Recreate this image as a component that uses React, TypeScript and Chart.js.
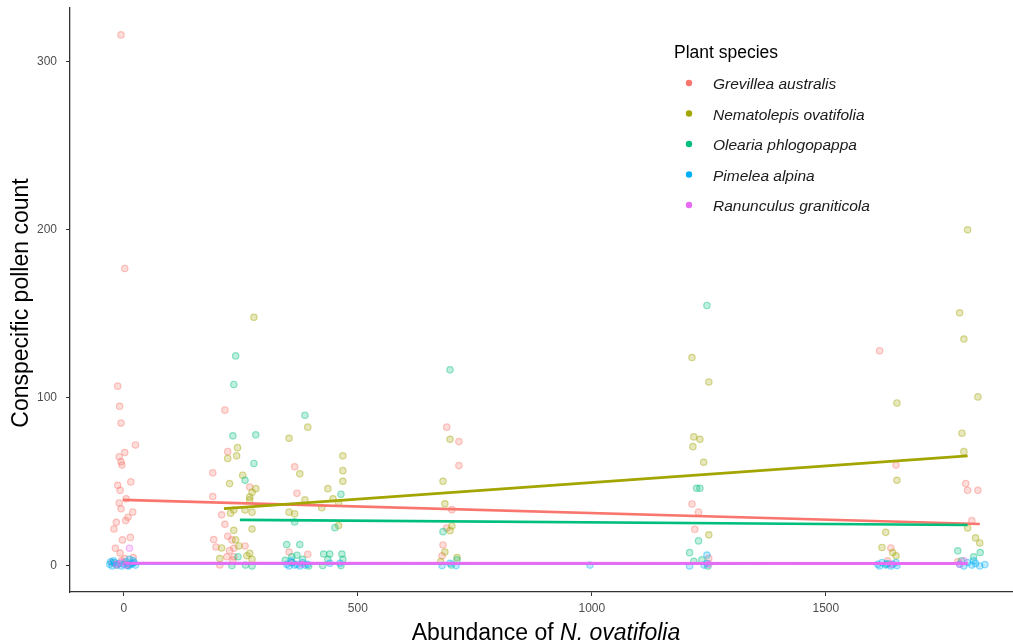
import React, { useEffect, useRef } from "react";
import { Chart, registerables } from "chart.js";

Chart.register(...registerables);

// ---- Data ----
const speciesNames = [
  "Grevillea australis",
  "Nematolepis ovatifolia",
  "Olearia phlogopappa",
  "Pimelea alpina",
  "Ranunculus graniticola",
];
const speciesColors = ["#F8766D", "#A3A500", "#00BF7D", "#00B0F6", "#E76BF3"];

const grevilleaX = [-6, 2, -13, -9, -6, 25, 2, -10, -6, -4, 15, -13, -8, 5, -10, -6, 19, 9, 4, -16, -21, 14, -3, -18, -8, 2, -25, 10, -5, 20, -15,
  216, 222, 190, 269, 190, 209, 216, 222, 192, 231, 197, 235, 259, 226, 220, 235, 205, 233,
  365, 370, 353, 393, 360,
  690, 716, 716, 701, 690, 682, 680,
  1214, 1228, 1220, 1250,
  1615, 1650, 1639, 1632,
  1799, 1803, 1825, 1812, 1782];
const grevilleaY = [316, 177, 107, 95, 85, 72, 67.5, 65, 62, 60, 50, 48, 45, 40, 37.5, 34, 32, 29, 27, 26, 22, 17, 15.5, 10.5, 7.7, 4.4, 2, 1, 3, 5, 0.5,
  92.7, 68, 55.4, 47, 41.3, 30.4, 24.8, 17.7, 15.7, 15.5, 11.3, 10.5, 11.9, 9.1, 5.5, 5.5, 0.6, 3.5,
  59, 43.3, 8.3, 7, 2,
  82.6, 74, 59.7, 33.5, 22.6, 12.5, 6,
  36.9, 32, 21.8, 4.6,
  128, 60, 10.7, 3,
  49, 45, 45, 27, 2.5];

const nematolepisX = [278, 243, 241, 222, 254, 226, 282, 274, 269, 269, 235, 259, 274, 228, 235, 274, 239, 209, 246, 269, 205, 263, 274,
  393, 353, 376, 387, 353, 365, 468, 468, 468, 436, 447, 459, 423, 459,
  697, 682, 686, 701, 697, 686, 712, 677,
  1214, 1250, 1218, 1231, 1216, 1239, 1250,
  1652, 1652, 1628, 1620, 1643, 1650,
  1803, 1786, 1795, 1825, 1791, 1795, 1803, 1820, 1829];
const nematolepisY = [148, 70.4, 65.5, 64, 54, 49, 46, 43.8, 41, 39.3, 33.3, 33.3, 32, 31.4, 21.2, 22, 15.5, 10.7, 11.9, 7.5, 4.4, 6.1, 4,
  82.6, 76, 54.8, 39.3, 32, 31, 65.5, 56.7, 50.4, 46, 40, 37.5, 34.7, 24,
  75.4, 50.4, 37, 23.8, 21, 8.3, 5, 2.6,
  124, 109.5, 76.8, 75.4, 71, 61.7, 18.5,
  97, 51, 20, 11, 8, 6,
  200, 150.6, 135, 100.6, 79, 68, 22.6, 16.7, 13.7];

const oleariaX = [239, 235, 233, 282, 278, 259, 244, 231, 274, 260,
  387, 365, 348, 376, 370, 359, 382, 345, 395, 464, 451, 427, 440, 466, 436, 468, 425, 464,
  697, 682, 712, 700,
  1246, 1224, 1231, 1228, 1209, 1218, 1235, 1248,
  1630,
  1782, 1816, 1830, 1790];
const oleariaY = [125, 108, 77.4, 78, 61, 51, 5.5, 0.2, 0, 0.5,
  89.7, 26.2, 12.7, 12.7, 6.4, 5.5, 4, 3.4, 0, 42.7, 22.8, 7.1, 7.1, 7.1, 4, 4, 0.2, 0.2,
  116.7, 20.4, 3.6, 0.5,
  155, 46.2, 46.2, 14.9, 7.9, 2.8, 3.6, 0,
  1,
  9, 5.4, 8, 3];

const pimeleaX = [-30, -25, -20, -15, -10, -5, 0, 5, 10, 15, 20, 25, -22, 12, 18, -28, 8, 22,
  348, 353, 359, 365, 370, 376, 382, 387, 393, 440, 462, 357,
  680, 697, 710,
  996,
  1246, 1209, 1246, 1240,
  1611, 1615, 1620, 1628, 1632, 1639, 1643, 1650, 1652,
  1786, 1795, 1803, 1812, 1820, 1829, 1840, 1816];
const pimeleaY = [1, 0, 2, 0.5, 1.5, 0, 1, 2.5, 0, 1, 3, 0.5, 3, 4, 1.5, 2.5, 0.3, 2,
  1, 0, 2, 0.5, 1, 0, 2, 0.5, 1, 1.6, 1.6, 3,
  0.2, 1.6, 0.2,
  0.5,
  6.5, 0, 1.6, 0.5,
  1, 0, 2, 0.5, 1.5, 0, 1, 2, 0.3,
  1, 0, 2, 0.5, 1.5, 0, 0.8, 3];

const ranunculusX = [12, -15, -5, 5, 380, 1250, 1640, 1786, 1795];
const ranunculusY = [10.5, 1, 2, 0.5, 1, 1, 1, 1, 3];

// Fitted trend lines (start / end)
const grevilleaFitX = [-2, 1829];
const grevilleaFitY = [39.3, 25];
const nematolepisFitX = [214, 1803];
const nematolepisFitY = [34.1, 65.5];
const oleariaFitX = [248, 1803];
const oleariaFitY = [27.4, 24.4];
const pimeleaFitX = [2, 1803];
const pimeleaFitY = [1.4, 1.2];
const ranunculusFitX = [2, 1803];
const ranunculusFitY = [1.6, 1.5];

const xTicks = [0, 500, 1000, 1500];
const yTicks = [0, 100, 200, 300];

const pointXs = [grevilleaX, nematolepisX, oleariaX, pimeleaX, ranunculusX];
const pointYs = [grevilleaY, nematolepisY, oleariaY, pimeleaY, ranunculusY];
const fitXs = [grevilleaFitX, nematolepisFitX, oleariaFitX, pimeleaFitX, ranunculusFitX];
const fitYs = [grevilleaFitY, nematolepisFitY, oleariaFitY, pimeleaFitY, ranunculusFitY];
const fitWidths = [2.6, 2.6, 2.6, 1.6, 3];

function rgba(hex: string, a: number) {
  const r = parseInt(hex.slice(1, 3), 16);
  const g = parseInt(hex.slice(3, 5), 16);
  const b = parseInt(hex.slice(5, 7), 16);
  return `rgba(${r},${g},${b},${a})`;
}

const FONT = '"Liberation Sans", Arial, sans-serif';

const annotPlugin = {
  id: "annot",
  afterDraw(chart: any) {
    const ctx = chart.ctx as CanvasRenderingContext2D;
    ctx.save();
    // x axis title (mixed italic)
    const part1 = "Abundance of ";
    const part2 = "N. ovatifolia";
    ctx.font = `23px ${FONT}`;
    const w1 = ctx.measureText(part1).width;
    ctx.font = `italic 23px ${FONT}`;
    const w2 = ctx.measureText(part2).width;
    const cx = 546;
    const startX = cx - (w1 + w2) / 2;
    ctx.fillStyle = "#000";
    ctx.textBaseline = "alphabetic";
    ctx.textAlign = "left";
    ctx.font = `23px ${FONT}`;
    ctx.fillText(part1, startX, 640);
    ctx.font = `italic 23px ${FONT}`;
    ctx.fillText(part2, startX + w1, 640);

    // y axis title
    ctx.save();
    ctx.translate(22, 303);
    ctx.rotate(-Math.PI / 2);
    ctx.font = `23px ${FONT}`;
    ctx.textAlign = "center";
    ctx.textBaseline = "middle";
    ctx.fillText("Conspecific pollen count", 0, 0);
    ctx.restore();

    // legend
    ctx.textAlign = "left";
    ctx.textBaseline = "middle";
    ctx.font = `17.5px ${FONT}`;
    ctx.fillStyle = "#000";
    ctx.fillText("Plant species", 674, 53);
    ctx.font = `italic 15.5px ${FONT}`;
    speciesNames.forEach((name, i) => {
      const y = 84 + i * 30.5;
      ctx.beginPath();
      ctx.arc(689, y - 1, 3.2, 0, Math.PI * 2);
      ctx.fillStyle = speciesColors[i];
      ctx.fill();
      ctx.fillStyle = "#1a1a1a";
      ctx.fillText(name, 713, y + 1);
    });
    ctx.restore();
  },
};

export default function App() {
  const ref = useRef<HTMLCanvasElement>(null);
  useEffect(() => {
    if (!ref.current) return;
    const datasets: any[] = [];
    speciesNames.forEach((name, i) => {
      datasets.push({
        type: "scatter",
        label: name,
        data: pointXs[i].map((x, j) => ({ x, y: pointYs[i][j] })),
        backgroundColor: rgba(speciesColors[i], 0.25),
        borderColor: rgba(speciesColors[i], 0.42),
        borderWidth: 1.2,
        pointRadius: 3.2,
        order: 20 - i,
      });
    });
    speciesNames.forEach((name, i) => {
      datasets.push({
        type: "line",
        label: name + " fit",
        data: fitXs[i].map((x, j) => ({ x, y: fitYs[i][j] })),
        borderColor: speciesColors[i],
        borderWidth: fitWidths[i],
        pointRadius: 0,
        fill: false,
        order: 4 - i,
      });
    });
    const chart = new Chart(ref.current, {
      type: "scatter",
      data: { datasets },
      plugins: [annotPlugin],
      options: {
        animation: false,
        responsive: false,
        layout: { autoPadding: false, padding: { top: 8, right: 0, left: 0, bottom: 0 } },
        plugins: { legend: { display: false }, tooltip: { enabled: false } },
        scales: {
          x: {
            type: "linear",
            min: -115,
            max: 1900,
            afterFit(scale: any) {
              scale.height = 52;
              scale.paddingLeft = 0;
              scale.paddingRight = 0;
            },
            afterBuildTicks(scale: any) {
              scale.ticks = xTicks.map((v) => ({ value: v }));
            },
            grid: { drawOnChartArea: false, drawTicks: true, tickLength: 4, color: "#333", lineWidth: 1 },
            border: { display: true, color: "#333", width: 1.3 },
            ticks: {
              color: "#4D4D4D",
              font: { family: FONT, size: 12 },
              padding: 5,
              callback: (v: any) => String(v),
            },
          },
          y: {
            type: "linear",
            min: -15.5,
            max: 332,
            afterFit(scale: any) {
              scale.width = 70;
              scale.paddingTop = 0;
              scale.paddingBottom = 0;
            },
            afterBuildTicks(scale: any) {
              scale.ticks = yTicks.map((v) => ({ value: v }));
            },
            grid: { drawOnChartArea: false, drawTicks: true, tickLength: 4, color: "#333", lineWidth: 1 },
            border: { display: true, color: "#333", width: 1.3 },
            ticks: {
              color: "#4D4D4D",
              font: { family: FONT, size: 12 },
              padding: 9,
              callback: (v: any) => String(v),
            },
          },
        },
      },
    });
    return () => chart.destroy();
  }, []);
  return (
    <div style={{ position: "absolute", left: 0, top: 0, width: 1013, height: 644, background: "#fff" }}>
      <canvas ref={ref} width={1013} height={644} style={{ display: "block" }} />
    </div>
  );
}
